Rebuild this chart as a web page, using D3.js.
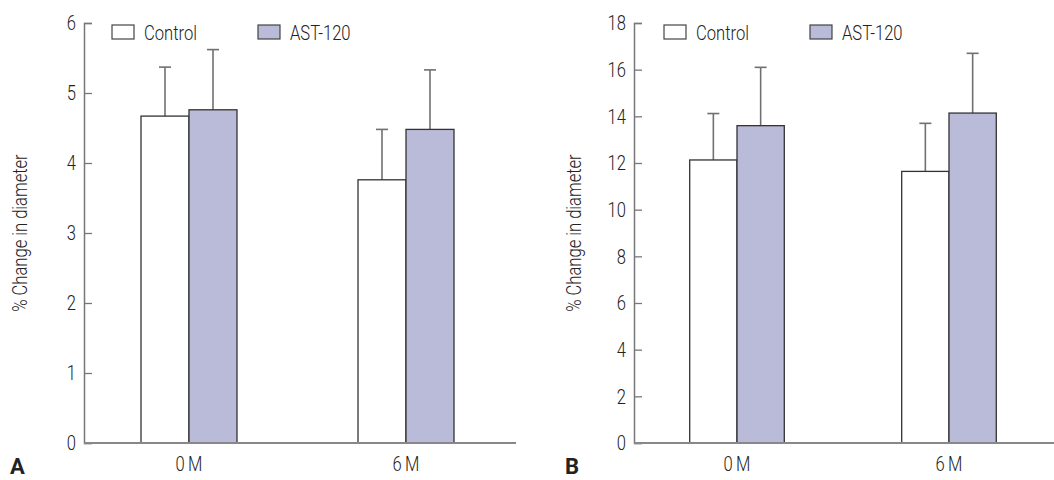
<!DOCTYPE html>
<html>
<head>
<meta charset="utf-8">
<script src="https://cdn.jsdelivr.net/npm/d3@7"></script>
<style>
  body { margin: 0; background: #fff; }
  svg text { font-family: "Roboto", "Liberation Sans", sans-serif; fill: #222; }
</style>
</head>
<body>
<svg id="chart" width="1054" height="480"></svg>
<script>
// data

let categories = ['0 M', '6 M'];
let groups = ['Control', 'AST-120'];

let meanA = [[4.67, 4.76], [3.76, 4.48]];
let errA = [[5.37, 5.62], [4.48, 5.33]];
let meanB = [[12.13, 13.6], [11.64, 14.14]];
let errB = [[14.12, 16.1], [13.7, 16.7]];

let ticksA = [0, 1, 2, 3, 4, 5, 6];
let ticksB = [0, 2, 4, 6, 8, 10, 12, 14, 16, 18];

let fills = ['#ffffff', '#babad9'];

let svg = d3.select('#chart');

// narrow text: roboto squeezed sideways, nearer to the condensed face of the original
let squeeze = 0.79;
let fontSize = '21px';

function addText(parent, x, y, str, rot) {
    return parent.append('text')
        .attr('transform', `translate(${x},${y}) rotate(${rot || 0}) scale(${squeeze},1)`)
        .style('font-size', fontSize)
        .style('font-weight', 300)
        .text(str);
}

// panels

let panels = [
    { letter: 'A', left: 84, width: 432, max: 6, ticks: ticksA, mean: meanA, err: errA,
      centers: [105, 322], barW: 48, legendX: [112, 258], labelX: 27, letterX: 10 },
    { letter: 'B', left: 634, width: 420, max: 18, ticks: ticksB, mean: meanB, err: errB,
      centers: [103, 315], barW: 47.3, legendX: [664, 810], labelX: 581, letterX: 565 },
];

let plotTop = 23, plotBottom = 443;

panels.forEach(p => {
    let g = svg.append('g').attr('transform', `translate(${p.left},0)`);

    let y = d3.scaleLinear().domain([0, p.max]).range([plotBottom, plotTop]);
    let x = d3.scaleOrdinal().domain(categories).range(p.centers);
    let sub = d3.scaleBand().domain(groups).range([-p.barW, p.barW]);

    // bars
    categories.forEach((c, ci) => {
        groups.forEach((s, si) => {
            let bx = x(c) + sub(s);
            let v = p.mean[ci][si];
            let e = p.err[ci][si];
            let cx = bx + sub.bandwidth() / 2;

            g.append('line')
                .attr('x1', cx).attr('x2', cx)
                .attr('y1', y(v)).attr('y2', y(e))
                .attr('stroke', '#707070')
                .attr('stroke-width', 1.6);
            g.append('line')
                .attr('x1', cx - 6).attr('x2', cx + 6)
                .attr('y1', y(e)).attr('y2', y(e))
                .attr('stroke', '#707070')
                .attr('stroke-width', 1.6);

            g.append('rect')
                .attr('x', bx)
                .attr('y', y(v))
                .attr('width', sub.bandwidth())
                .attr('height', y(0) - y(v))
                .attr('fill', fills[si])
                .attr('stroke', '#333')
                .attr('stroke-width', 1.3);
        });
    });

    // y axis
    let yAxis = d3.axisLeft(y)
        .tickValues(p.ticks)
        .tickSize(-8)
        .tickPadding(8)
        .tickFormat(d3.format('d'));

    let ay = g.append('g').call(yAxis);
    ay.select('.domain').attr('stroke', '#777').attr('stroke-width', 1.5);
    ay.selectAll('.tick line').attr('stroke', '#777').attr('stroke-width', 1.3);
    ay.selectAll('.tick text')
        .attr('x', -8 / squeeze)
        .attr('transform', `scale(${squeeze},1)`)
        .style('font-size', fontSize)
        .style('font-weight', 300)
        .style('font-family', null)
        .attr('fill', '#222');

    // x axis
    g.append('line')
        .attr('x1', 0).attr('x2', p.width)
        .attr('y1', plotBottom).attr('y2', plotBottom)
        .attr('stroke', '#888')
        .attr('stroke-width', 2);

    categories.forEach(c => {
        addText(g, x(c), 471, c.replace(' ', '\u2009'))
            .attr('text-anchor', 'middle');
    });

    // legend
    groups.forEach((s, si) => {
        let lx = p.legendX[si];
        svg.append('rect')
            .attr('x', lx).attr('y', 25)
            .attr('width', 22).attr('height', 14)
            .attr('fill', fills[si])
            .attr('stroke', '#444')
            .attr('stroke-width', 1.2);
        addText(svg, lx + 32, 40, s);
    });

    // axis title
    addText(svg, p.labelX, 233, '% Change in diameter', -90)
        .attr('text-anchor', 'middle');

    // panel letter
    svg.append('text')
        .attr('x', p.letterX)
        .attr('y', 474)
        .style('font-size', '22px')
        .style('font-weight', 'bold')
        .attr('fill', '#111')
        .text(p.letter);
});
</script>
</body>
</html>
